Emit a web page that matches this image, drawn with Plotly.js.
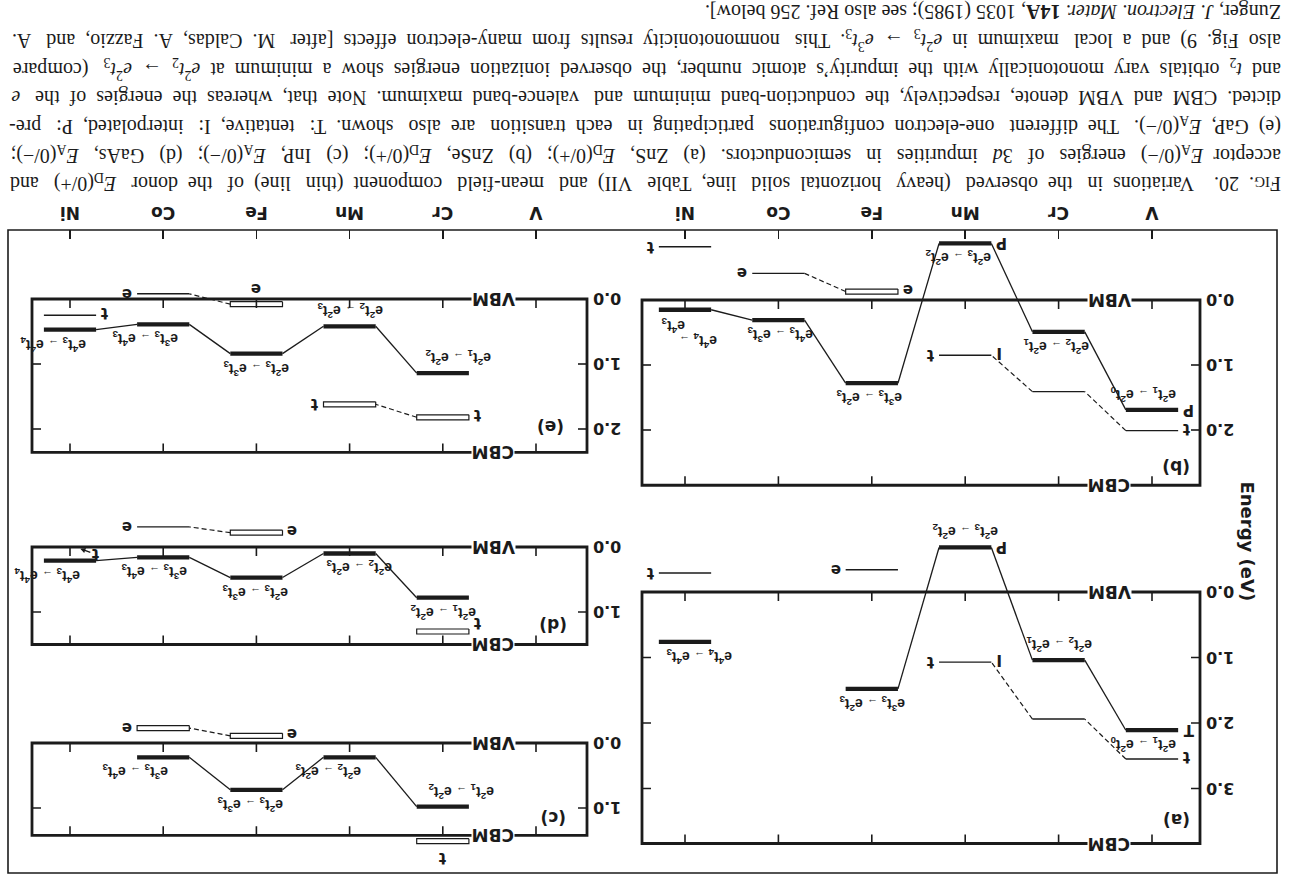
<!DOCTYPE html>
<html>
<head>
<meta charset="utf-8">
<script src="https://cdn.plot.ly/plotly-3.0.1.min.js"></script>
<style>
  html, body { margin:0; padding:0; background:#fff; overflow:hidden; }
  #turn { position:absolute; left:0; top:0; width:1290px; height:877px;
          transform:rotate(180deg); transform-origin:645px 438.5px; }
  #chart { width:1290px; height:877px; }
</style>
</head>
<body>
<div id="turn"><div id="chart"></div></div>
<script>
// ---------------- data (energies in eV above the VBM) ----------------
const elements = ['V', 'Cr', 'Mn', 'Fe', 'Co', 'Ni'];

// (a) ZnS, donor E_D(0/+)
const aGap = 3.84;
const aTicks = [0, 1, 2, 3];
const aObs = [2.11, 1.04, -0.68, 1.48, null, 0.76];
const aObsTag = ['T', '', 'P', '', '', ''];
const aMf = [2.55, 1.94, 1.07, -0.34, null, -0.29];
const aMfOpen = [0, 0, 0, 0, 0, 0];
const aMfLink = [1, 1, 0, 0, 0, 0];
const aMfTagL = ['t', '', 'I', '', '', ''];
const aMfTagR = ['', '', 't', 'e', '', 't'];
const aTrans = ['e²t₁ → e²t₀', 'e²t₂ → e²t₁', 'e²t₃ → e²t₂', 'e³t₃ → e²t₃', '', 'e⁴t₄ → e⁴t₃'];

// (b) ZnSe, donor E_D(0/+)
const bGap = 2.85;
const bTicks = [0, 1, 2];
const bObs = [1.69, 0.49, -0.87, 1.28, 0.31, 0.15];
const bObsTag = ['P', '', 'P', '', '', ''];
const bMf = [2.01, 1.41, 0.85, -0.13, -0.41, -0.82];
const bMfOpen = [0, 0, 0, 1, 0, 0];
const bMfLink = [1, 1, 0, 1, 0, 0];
const bMfTagL = ['t', '', 'I', 'e', '', ''];
const bMfTagR = ['', '', 't', '', 'e', 't'];
const bTrans = ['e²t₁ → e²t₀', 'e²t₂ → e²t₁', 'e²t₃ → e²t₂', 'e³t₃ → e²t₃', 'e⁴t₃ → e³t₃', 'e⁴t₄ → e⁴t₃'];

// (c) InP, acceptor E_A(0/-)
const cGap = 1.42;
const cTicks = [0, 1];
const cObs = [null, 0.98, 0.22, 0.72, 0.22, null];
const cObsTag = ['', '', '', '', '', ''];
const cMf = [null, 1.51, null, -0.11, -0.23, null];
const cMfOpen = [0, 1, 0, 1, 1, 0];
const cMfLink = [0, 0, 0, 1, 0, 0];
const cMfTagL = ['', '', '', 'e', '', ''];
const cMfTagR = ['', '', '', '', 'e', ''];
const cMfTagU = ['', 't', '', '', '', ''];
const cTrans = ['', 'e²t₁ → e²t₂', 'e²t₂ → e²t₃', 'e²t₃ → e³t₃', 'e³t₃ → e⁴t₃', ''];

// (d) GaAs, acceptor E_A(0/-)
const dGap = 1.50;
const dTicks = [0, 1];
const dObs = [null, 0.78, 0.10, 0.47, 0.16, 0.21];
const dObsTag = ['', '', '', '', '', ''];
const dMf = [null, 1.30, null, -0.22, -0.31, 0.02];
const dMfOpen = [0, 1, 0, 1, 0, 2];
const dMfLink = [0, 0, 0, 1, 0, 0];
const dMfTagL = ['', 't', '', 'e', '', 't'];
const dMfTagR = ['', '', '', '', 'e', ''];
const dTrans = ['', 'e²t₁ → e²t₂', 'e²t₂ → e²t₃', 'e²t₃ → e³t₃', 'e³t₃ → e⁴t₃', 'e⁴t₃ → e⁴t₄'];

// (e) GaP, acceptor E_A(0/-)
const eGap = 2.36;
const eTicks = [0, 1, 2];
const eObs = [null, 1.14, 0.42, 0.84, 0.39, 0.47];
const eObsTag = ['', '', '', '', '', ''];
const eMf = [null, 1.82, 1.62, 0.08, -0.08, 0.25];
const eMfOpen = [0, 1, 1, 1, 0, 0];
const eMfLink = [0, 1, 0, 1, 0, 0];
const eMfTagL = ['', 't', '', '', '', 't'];
const eMfTagR = ['', '', 't', '', 'e', ''];
const eMfTagD = ['', '', '', 'e', '', ''];
const eTrans = ['', 'e²t₁ → e²t₂', 'e²t₂ → e²t₃', 'e²t₃ → e³t₃', 'e³t₃ → e⁴t₃', 'e⁴t₃ → e⁴t₄'];

const captionLines = [
  "F<span style='font-size:15px'>IG</span>. 20.\u00a0 Variations in the observed (heavy horizontal solid line, Table VII) and mean-field component (thin line) of the donor <i>E</i><sub>D</sub>(0/+) and",
  "acceptor <i>E</i><sub>A</sub>(0/−) energies of 3<i>d</i> impurities in semiconductors. (a) ZnS, <i>E</i><sub>D</sub>(0/+); (b) ZnSe, <i>E</i><sub>D</sub>(0/+); (c) InP, <i>E</i><sub>A</sub>(0/−); (d) GaAs, <i>E</i><sub>A</sub>(0/−);",
  "(e) GaP, <i>E</i><sub>A</sub>(0/−). The different one-electron configurations participating in each transition are also shown. T: tentative, I: interpolated, P: pre-",
  "dicted. CBM and VBM denote, respectively, the conduction-band minimum and valence-band maximum. Note that, whereas the energies of the <i>e</i>",
  "and <i>t</i><sub>2</sub> orbitals vary monotonically with the impurity’s atomic number, the observed ionization energies show a minimum at <i>e</i><sup>2</sup><i>t</i><sub>2</sub> → <i>e</i><sup>2</sup><i>t</i><sub>3</sub> (compare",
  "also Fig. 9) and a local maximum in <i>e</i><sup>2</sup><i>t</i><sub>3</sub> → <i>e</i><sup>3</sup><i>t</i><sub>3</sub>. This nonmonotonicity results from many-electron effects [after M. Caldas, A. Fazzio, and A.",
  "Zunger, <i>J. Electron. Mater.</i> <b>14A</b>, 1035 (1985); see also Ref. 256 below]."
];

// ---------------- layout / drawing ----------------
const INK = '#1b1b1b';
const FW = 1290, FH = 877, PAD = 3, HALF = 0.28, TICK = 9;
const SANS = 'DejaVu Sans', LAB = 'Liberation Sans', SERIF = 'Liberation Serif';

const columns = {
  A: { boxL: 90, boxR: 648, x0: 138, dx: 93.4 },
  B: { boxL: 703, boxR: 1258, x0: 754, dx: 93.2 }
};

const panels = [
  { tag: '(a)', col: 'A', vbm: 592, ppe: 65.5, eMin: -1.15, eMax: 3.95, ticks: aTicks, axisLabels: false,
    gap: aGap, obs: aObs, obsTag: aObsTag, mf: aMf, mfOpen: aMfOpen, mfLink: aMfLink,
    tagL: aMfTagL, tagR: aMfTagR, trans: aTrans,
    side: [1, -1, -1, 1, 0, 1], tdx: [0.1, 0, 0, 0, 0, -0.15], letter: [-0.26, 3.48] },
  { tag: '(b)', col: 'A', vbm: 300, ppe: 65, eMin: (230 - 300) / 65, eMax: 3.0, ticks: bTicks, axisLabels: true,
    gap: bGap, obs: bObs, obsTag: bObsTag, mf: bMf, mfOpen: bMfOpen, mfLink: bMfLink,
    tagL: bMfTagL, tagR: bMfTagR, trans: bTrans,
    side: [-1, 1, 1, 1, 1, 0], tdx: [0.1, 0.03, 0.08, 0.03, -0.02, 0], letter: [-0.26, 2.57],
    split: { i: 5, a: [-0.14, 31], b: [0.13, 16] } },
  { tag: '(c)', col: 'B', vbm: 743, ppe: 65, eMin: -0.5, eMax: 1.95, ticks: cTicks, axisLabels: false,
    gap: cGap, obs: cObs, obsTag: cObsTag, mf: cMf, mfOpen: cMfOpen, mfLink: cMfLink,
    tagL: cMfTagL, tagR: cMfTagR, tagU: cMfTagU, trans: cTrans,
    side: [0, -1, 1, 1, 1, 0], tdx: [0, -0.2, 0.23, 0.07, 0.3, 0], letter: [-0.18, 1.15] },
  { tag: '(d)', col: 'B', vbm: 547, ppe: 65, eMin: -0.6, eMax: 1.75, ticks: dTicks, axisLabels: false,
    gap: dGap, obs: dObs, obsTag: dObsTag, mf: dMf, mfOpen: dMfOpen, mfLink: dMfLink,
    tagL: dMfTagL, tagR: dMfTagR, trans: dTrans, tagNudge: { 1: -6 },
    side: [0, 1, 1, 1, 1, 1], tdx: [0, 0, -0.1, 0.02, 0.1, 0.25], letter: [-0.18, 1.2] },
  { tag: '(e)', col: 'B', vbm: 299, ppe: 65, eMin: (230 - 299) / 65, eMax: 2.6, ticks: eTicks, axisLabels: true,
    gap: eGap, obs: eObs, obsTag: eObsTag, mf: eMf, mfOpen: eMfOpen, mfLink: eMfLink,
    tagL: eMfTagL, tagR: eMfTagR, tagD: eMfTagD, trans: eTrans,
    side: [0, -1, -1, 1, 1, 1], tdx: [0, -0.16, 0, 0, 0.2, 0.18], letter: [-0.16, 1.97] }
];

const SUP = { '⁰': '0', '¹': '1', '²': '2', '³': '3', '⁴': '4' };
const SUB = { '₀': '0', '₁': '1', '₂': '2', '₃': '3', '₄': '4' };
function rich(s) {
  return s.replace(/[⁰¹²³⁴]/g, ch => '<sup>' + SUP[ch] + '</sup>')
          .replace(/[₀₁₂₃₄]/g, ch => '<sub>' + SUB[ch] + '</sub>')
          .replace(/→/g, "<span style='font-size:11px'>→</span>");
}

const data = [], shapes = [], annotations = [];
const layout = {
  width: FW, height: FH, margin: { l: 0, r: 0, t: 0, b: 0 },
  paper_bgcolor: '#ffffff', plot_bgcolor: 'rgba(0,0,0,0)', showlegend: false,
  font: { family: SANS, color: INK }
};

function note(o) {
  const base = { showarrow: false, font: { family: SANS, size: 15, color: INK, weight: 'bold' } };
  annotations.push(Object.assign(base, o));
}

panels.forEach((p, k) => {
  const n = k === 0 ? '' : String(k + 1);
  const xa = 'x' + n, ya = 'y' + n;
  const c = columns[p.col];
  const bx0 = (c.boxL - c.x0) / c.dx, bx1 = (c.boxR - c.x0) / c.dx;
  const idx = elements.map((_, i) => i);
  const nudge = p.tagNudge || {};

  layout['xaxis' + n] = {
    domain: [(c.boxL - PAD) / FW, (c.boxR + PAD) / FW],
    range: [(c.boxL - PAD - c.x0) / c.dx, (c.boxR + PAD - c.x0) / c.dx],
    anchor: ya, showgrid: false, zeroline: false, showline: false, fixedrange: true,
    tickmode: 'array', tickvals: idx, ticktext: elements,
    showticklabels: p.axisLabels, ticks: p.axisLabels ? 'inside' : '',
    ticklen: TICK, tickwidth: 1.6, tickcolor: INK, ticklabelstandoff: 5,
    tickfont: { family: SANS, size: 17, color: INK, weight: 'bold' }
  };
  layout['yaxis' + n] = {
    domain: [(p.vbm + p.ppe * p.eMin) / FH, (p.vbm + p.ppe * p.eMax) / FH],
    range: [p.eMin, p.eMax],
    anchor: xa, showgrid: false, zeroline: false, showline: false, fixedrange: true,
    tickmode: 'array', tickvals: p.ticks, ticktext: p.ticks.map(v => v.toFixed(1)),
    ticks: '', ticklabelstandoff: 2,
    tickfont: { family: SANS, size: 16, color: INK, weight: 'bold' }
  };

  const line = (xs, ys, w, dash) => data.push({
    type: 'scatter', mode: 'lines', x: xs, y: ys, xaxis: xa, yaxis: ya,
    line: { color: INK, width: w, dash: dash || 'solid' }, hoverinfo: 'skip', showlegend: false
  });

  // panel box (VBM bottom, CBM top)
  shapes.push({ type: 'rect', xref: xa, yref: ya, x0: bx0, x1: bx1, y0: 0, y1: p.gap,
                line: { color: INK, width: 2.8 }, fillcolor: 'rgba(0,0,0,0)', layer: 'above' });

  // inward ticks on VBM/CBM lines and on both energy edges
  const tx = [], ty = [];
  const tE = TICK / p.ppe, tI = TICK / c.dx;
  idx.forEach(i => { tx.push(i, i, null, i, i, null); ty.push(0, tE, null, p.gap, p.gap - tE, null); });
  p.ticks.forEach(v => { tx.push(bx0, bx0 + tI, null, bx1, bx1 - tI, null); ty.push(v, v, null, v, v, null); });
  line(tx, ty, 1.6);

  // observed levels (heavy) and their connectors (thin)
  const ox = [], oy = [], cx = [], cy = [];
  p.obs.forEach((E, i) => { if (E !== null) { ox.push(i - HALF, i + HALF, null); oy.push(E, E, null); } });
  for (let i = 0; i < p.obs.length - 1; i++) {
    if (p.obs[i] !== null && p.obs[i + 1] !== null) {
      cx.push(i + HALF, i + 1 - HALF, null); cy.push(p.obs[i], p.obs[i + 1], null);
    }
  }
  line(cx, cy, 1.3);
  line(ox, oy, 4.3);

  // mean-field levels (thin line or open bar) and dashed links
  const mx = [], my = [], bxs = [], bys = [], lx = [], ly = [];
  const hb = 2.5 / p.ppe;
  p.mf.forEach((E, i) => {
    if (E === null) return;
    if (p.mfOpen[i] === 1) {
      bxs.push(i - HALF, i + HALF, i + HALF, i - HALF, i - HALF, null);
      bys.push(E - hb, E - hb, E + hb, E + hb, E - hb, null);
    } else if (p.mfOpen[i] === 0) {
      mx.push(i - HALF, i + HALF, null); my.push(E, E, null);
    }
  });
  for (let i = 0; i < p.mf.length - 1; i++) {
    if (p.mfLink[i] && p.mf[i] !== null && p.mf[i + 1] !== null) {
      lx.push(i + HALF, i + 1 - HALF, null); ly.push(p.mf[i], p.mf[i + 1], null);
    }
  }
  line(mx, my, 1.4);
  line(bxs, bys, 1.2);
  line(lx, ly, 1.2, '5px,3px');

  // tags on levels
  const tagFont = { family: SANS, size: 15, color: INK, weight: 'bold' };
  p.obs.forEach((E, i) => {
    if (E !== null && p.obsTag[i]) note({ xref: xa, yref: ya, x: i - HALF, y: E, xanchor: 'right', xshift: -3,
                                          text: p.obsTag[i], font: tagFont });
  });
  p.mf.forEach((E, i) => {
    if (E === null) return;
    if (p.mfOpen[i] === 2) {
      note({ xref: xa, yref: ya, x: i - 0.1, y: E, ax: -16, ay: -6, showarrow: true, arrowhead: 2, arrowsize: 0.8,
             arrowwidth: 1.3, arrowcolor: INK, text: p.tagL[i], standoff: 1, font: tagFont });
      return;
    }
    const ys = nudge[i] || 0;
    if (p.tagL && p.tagL[i]) note({ xref: xa, yref: ya, x: i - HALF, y: E, xanchor: 'right', xshift: -3, yshift: -2 + ys, text: p.tagL[i], font: tagFont });
    if (p.tagR && p.tagR[i]) note({ xref: xa, yref: ya, x: i + HALF, y: E, xanchor: 'left', xshift: 3, yshift: ys, text: p.tagR[i], font: tagFont });
    if (p.tagU && p.tagU[i]) note({ xref: xa, yref: ya, x: i, y: E, yshift: 17, text: p.tagU[i], font: tagFont });
    if (p.tagD && p.tagD[i]) note({ xref: xa, yref: ya, x: i, y: E, yshift: -15, text: p.tagD[i], font: tagFont });
  });

  // transition labels
  const tfont = { family: LAB, size: 14, color: INK, weight: 'bold' };
  p.trans.forEach((s, i) => {
    if (!s || p.obs[i] === null) return;
    if (p.split && p.split.i === i) {
      const parts = s.split(' → ');
      note({ xref: xa, yref: ya, x: i + p.split.a[0], y: p.obs[i], yshift: p.split.a[1], text: rich(parts[0] + ' →'), font: tfont });
      note({ xref: xa, yref: ya, x: i + p.split.b[0], y: p.obs[i], yshift: p.split.b[1], text: rich(parts[1]), font: tfont });
      return;
    }
    note({ xref: xa, yref: ya, x: i + p.tdx[i], y: p.obs[i], yshift: 15 * p.side[i], text: rich(s), font: tfont });
  });

  // band edges and panel letter
  const bfont = { family: SANS, size: 17, color: INK, weight: 'bold' };
  note({ xref: xa, yref: ya, x: 0.46, y: p.gap, text: 'CBM', bgcolor: '#ffffff', borderpad: 0, font: bfont });
  note({ xref: xa, yref: ya, x: 0.46, y: 0, text: 'VBM', bgcolor: '#ffffff', borderpad: 0, font: bfont });
  note({ xref: xa, yref: ya, x: p.letter[0], y: p.letter[1], text: p.tag, font: { family: SANS, size: 17, color: INK, weight: 'bold' } });
});

// outer frame of the figure
shapes.push({ type: 'rect', xref: 'paper', yref: 'paper', x0: 13 / FW, x1: 1282 / FW, y0: 230 / FH, y1: 873 / FH,
              line: { color: INK, width: 1.6 }, fillcolor: 'rgba(0,0,0,0)' });

// energy axis title
note({ xref: 'paper', yref: 'paper', x: 31 / FW, y: 541 / FH, text: 'Energy (eV)', textangle: -90,
       font: { family: SANS, size: 18, color: INK, weight: 'bold' } });

// caption, justified line by line
function justify(html, size, target, last) {
  const ctx = document.createElement('canvas').getContext('2d');
  const parts = html.split(/(<[^>]+>)/);
  let scale = 1, ital = false, bold = false, width = 0, gaps = 0;
  parts.forEach(t => {
    if (t.startsWith('<')) {
      if (/^<(sub|sup|span)/.test(t)) scale = 0.74;
      else if (/^<\/(sub|sup|span)/.test(t)) scale = 1;
      else if (t === '<i>') ital = true; else if (t === '</i>') ital = false;
      else if (t === '<b>') bold = true; else if (t === '</b>') bold = false;
    } else if (t) {
      ctx.font = (ital ? 'italic ' : '') + (bold ? 'bold ' : '') + (size * scale) + 'px "' + SERIF + '"';
      width += ctx.measureText(t).width;
      gaps += (t.match(/ /g) || []).length;
    }
  });
  if (last) return { html: html, size: size };
  if (width > target) return { html: html, size: size * target / width };
  ctx.font = size + 'px "' + SERIF + '"';
  const sp = ctx.measureText('\u00a0').width;
  const extra = Math.round((target - width) / sp);
  let g = 0;
  const out = parts.map(t => {
    if (t.startsWith('<') || !t) return t;
    return t.replace(/ /g, () => {
      const add = Math.floor((g + 1) * extra / gaps) - Math.floor(g * extra / gaps);
      g++;
      return ' ' + '\u00a0'.repeat(add);
    });
  }).join('');
  return { html: out, size: size };
}

captionLines.forEach((s, k) => {
  const j = justify(s, 20, 1272, k === captionLines.length - 1);
  note({ xref: 'paper', yref: 'paper', x: 7 / FW, y: (183 - 28.5 * k) / FH, xanchor: 'left', yanchor: 'middle',
         align: 'left', text: j.html, font: { family: SERIF, size: j.size, color: INK, weight: 'normal' } });
});

layout.shapes = shapes;
layout.annotations = annotations;
Plotly.newPlot('chart', data, layout, { staticPlot: true, displayModeBar: false });
</script>
</body>
</html>
